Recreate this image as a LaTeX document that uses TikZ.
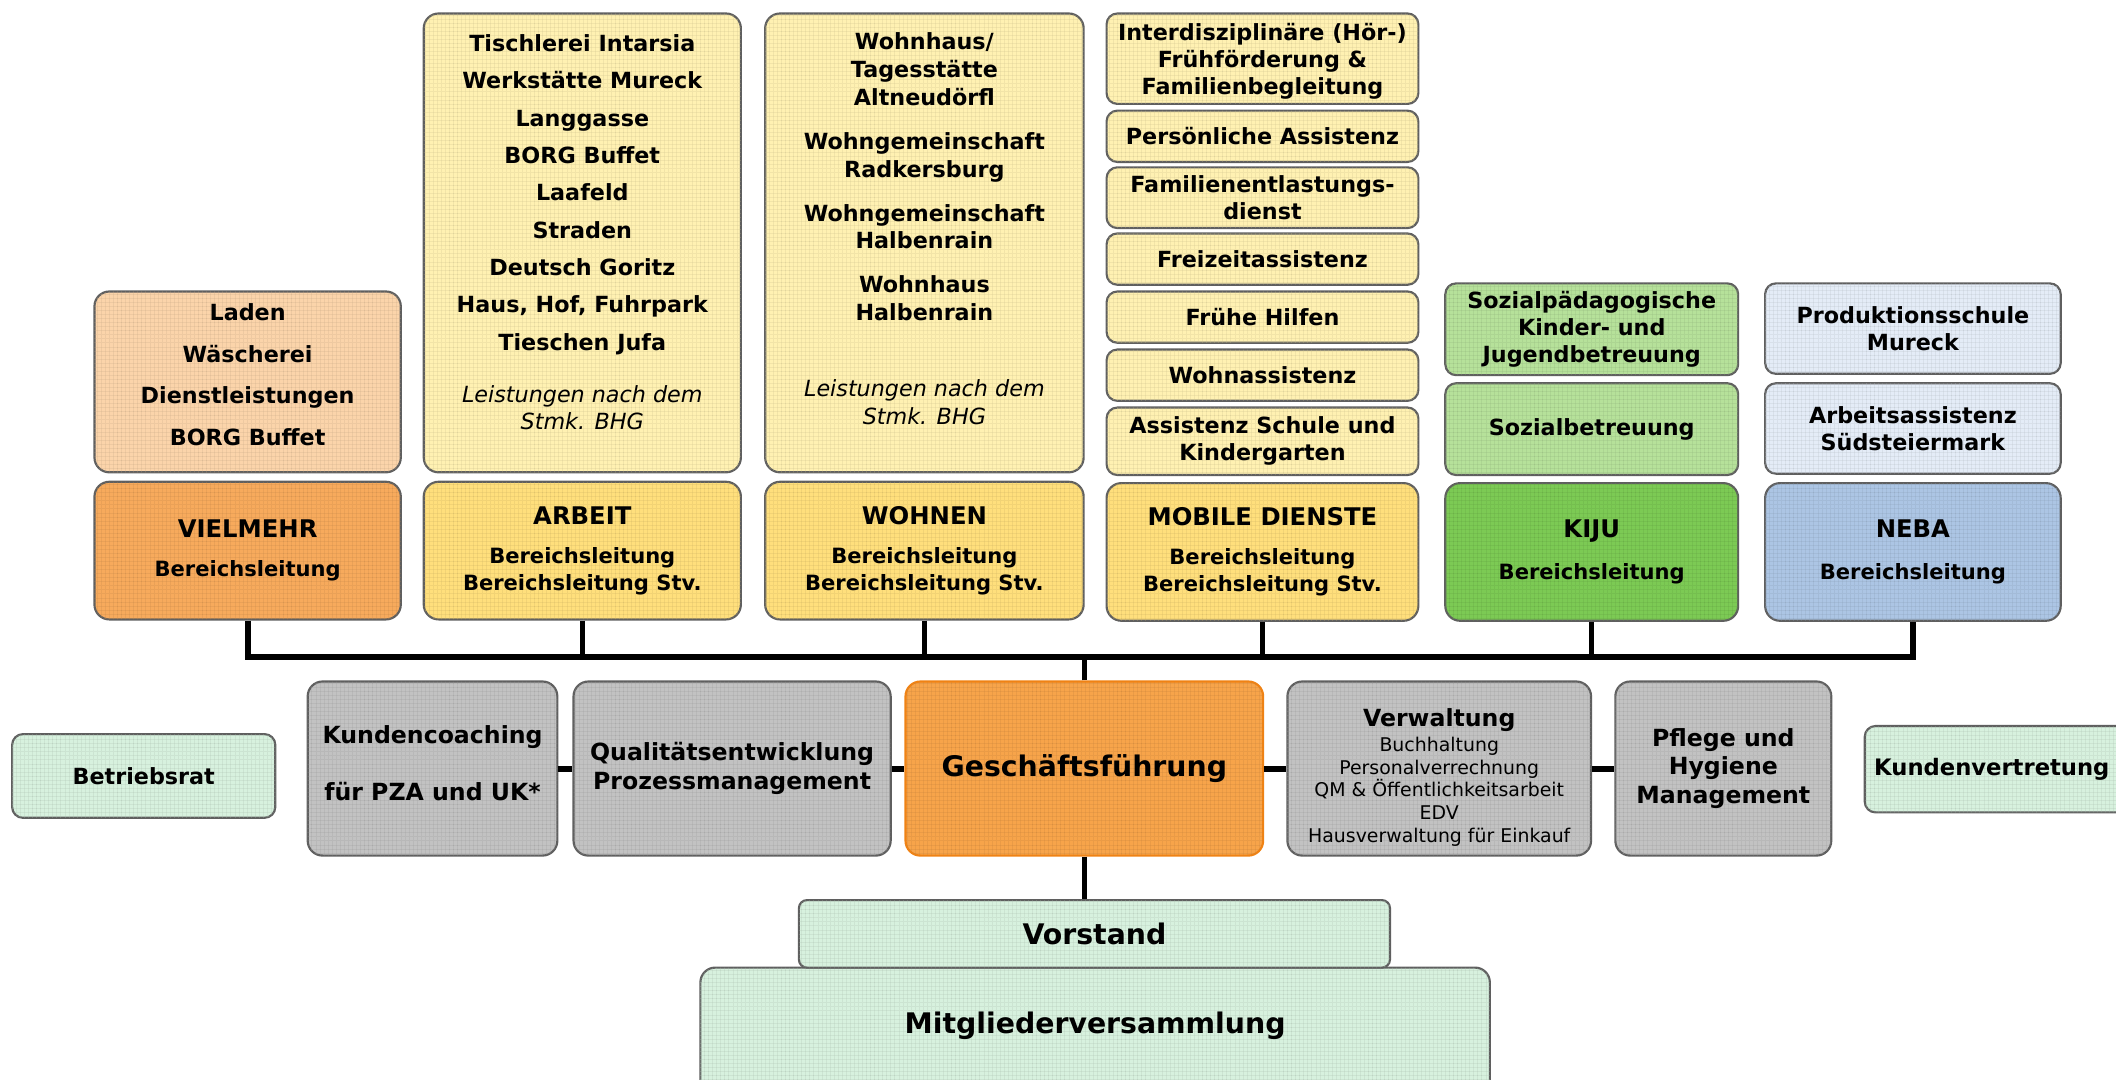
\documentclass[tikz,border=0pt]{standalone}
\usepackage{fontspec}
\setmainfont{DejaVu Sans}
\usepackage{tikz}
\usetikzlibrary{patterns}
\definecolor{boxline}{RGB}{95,95,95}
\definecolor{peach}{RGB}{251,212,170}
\definecolor{vielorange}{RGB}{247,170,92}
\definecolor{paleyellow}{RGB}{255,241,178}
\definecolor{headyellow}{RGB}{255,223,124}
\definecolor{lightgreen}{RGB}{182,225,154}
\definecolor{kijugreen}{RGB}{124,202,84}
\definecolor{paleblue}{RGB}{228,236,247}
\definecolor{nebablue}{RGB}{172,197,228}
\definecolor{stonegrey}{RGB}{194,194,194}
\definecolor{gforange}{RGB}{247,164,74}
\definecolor{gfline}{RGB}{240,130,20}
\definecolor{mint}{RGB}{215,241,222}

\begin{document}
\begin{tikzpicture}[x=1pt,y=-1pt,
  box/.style={draw=boxline,line width=1.6pt,rounded corners=11pt,align=center,inner sep=2pt,
    font=\fontsize{16.5}{20}\selectfont\bfseries},
  smallbox/.style={box,rounded corners=8pt},
  head/.style={box,font=\fontsize{15.6}{20}\selectfont\bfseries},
  mid/.style={box,font=\fontsize{17.5}{21}\selectfont\bfseries},
  tex/.style={fill=#1,postaction={pattern=grid,pattern color=#1!80!black,opacity=.25}},
  link/.style={line width=3.5pt},
  bus/.style={line width=4.5pt}]
\useasboundingbox (0,0) rectangle (1568,800);
\clip (0,0) rectangle (1568,800);

% Bereiche oben
\path (183.5,283) node(laden) [box,tex=peach,minimum width=227pt,minimum height=134pt,text depth=11pt]{Laden\\[10.7pt]
Wäscherei\\[10.7pt]
Dienstleistungen\\[10.7pt]
BORG Buffet};
\path (183.5,408) node(vielmehr) [head,tex=vielorange,minimum width=227pt,minimum height=102pt]{{\fontsize{18}{20}\selectfont VIELMEHR}\\[9pt]
Bereichsleitung};

\path (431.5,180) node(arbeitlist) [box,tex=paleyellow,minimum width=235pt,minimum height=340pt,text depth=16pt]{Tischlerei Intarsia\\[7.7pt]
Werkstätte Mureck\\[7.7pt]
Langgasse\\[7.7pt]
BORG Buffet\\[7.7pt]
Laafeld\\[7.7pt]
Straden\\[7.7pt]
Deutsch Goritz\\[7.7pt]
Haus, Hof, Fuhrpark\\[7.7pt]
Tieschen Jufa\\[19pt]
{\mdseries\itshape Leistungen nach dem}\\
{\mdseries\itshape Stmk. BHG}};
\path (431.5,408) node(arbeit) [head,tex=headyellow,minimum width=235pt,minimum height=102pt]{{\fontsize{18}{20}\selectfont ARBEIT}\\[9pt]
Bereichsleitung\\
Bereichsleitung Stv.};

\path (685,180) node(wohnenlist) [box,tex=paleyellow,minimum width=236pt,minimum height=340pt,text depth=21pt,
  font=\fontsize{16.5}{20.6}\selectfont\bfseries]{Wohnhaus/\\
Tagesstätte\\
Altneudörfl\\[12pt]
Wohngemeinschaft\\
Radkersburg\\[12pt]
Wohngemeinschaft\\
Halbenrain\\[12pt]
Wohnhaus\\
Halbenrain\\[36pt]
{\mdseries\itshape Leistungen nach dem}\\
{\mdseries\itshape Stmk. BHG}};
\path (685,408) node(wohnen) [head,tex=headyellow,minimum width=236pt,minimum height=102pt]{{\fontsize{18}{20}\selectfont WOHNEN}\\[9pt]
Bereichsleitung\\
Bereichsleitung Stv.};

\path (935.5,43.5) node(fruehfoerderung) [smallbox,tex=paleyellow,minimum width=231pt,minimum height=67pt,text depth=-2pt]{Interdisziplinäre (Hör-)\\
Frühförderung \&\\
Familienbegleitung};
\path (935.5,101) node(persass) [smallbox,tex=paleyellow,minimum width=231pt,minimum height=38pt]{Persönliche Assistenz};
\path (935.5,146.5) node(fed) [smallbox,tex=paleyellow,minimum width=231pt,minimum height=45pt]{Familienentlastungs-\\
dienst};
\path (935.5,192) node(freizeit) [smallbox,tex=paleyellow,minimum width=231pt,minimum height=38pt]{Freizeitassistenz};
\path (935.5,235) node(fruehehilfen) [smallbox,tex=paleyellow,minimum width=231pt,minimum height=38pt]{Frühe Hilfen};
\path (935.5,278) node(wohnass) [smallbox,tex=paleyellow,minimum width=231pt,minimum height=38pt]{Wohnassistenz};
\path (935.5,327) node(schule) [smallbox,tex=paleyellow,minimum width=231pt,minimum height=50pt]{Assistenz Schule und\\
Kindergarten};
\path (935.5,409) node(mobile) [head,tex=headyellow,minimum width=231pt,minimum height=102pt]{{\fontsize{18}{20}\selectfont MOBILE DIENSTE}\\[9pt]
Bereichsleitung\\
Bereichsleitung Stv.};

\path (1179.5,244) node(sozpaed) [smallbox,tex=lightgreen,minimum width=217pt,minimum height=68pt]{Sozialpädagogische\\
Kinder- und\\
Jugendbetreuung};
\path (1179.5,318) node(sozbetr) [smallbox,tex=lightgreen,minimum width=217pt,minimum height=68pt]{Sozialbetreuung};
\path (1179.5,409) node(kiju) [head,tex=kijugreen,minimum width=217pt,minimum height=102pt]{{\fontsize{18}{20}\selectfont KIJU}\\[11pt]
Bereichsleitung};

\path (1417.5,243.5) node(prodschule) [smallbox,tex=paleblue,minimum width=219pt,minimum height=67pt]{Produktionsschule\\
Mureck};
\path (1417.5,317.5) node(arbass) [smallbox,tex=paleblue,minimum width=219pt,minimum height=67pt]{Arbeitsassistenz\\
Südsteiermark};
\path (1417.5,409) node(neba) [head,tex=nebablue,minimum width=219pt,minimum height=102pt]{{\fontsize{18}{20}\selectfont NEBA}\\[11pt]
Bereichsleitung};

% mittlere Reihe
\path (106.5,575) node(betriebsrat) [mid,smallbox,tex=mint,minimum width=195pt,minimum height=62pt]{Betriebsrat};
\path (320.5,569.5) node(kunden) [mid,tex=stonegrey,minimum width=185pt,minimum height=129pt,text depth=8pt]{Kundencoaching\\[21pt]
für PZA und UK*};
\path (542.5,569.5) node(quali) [mid,tex=stonegrey,minimum width=235pt,minimum height=129pt]{Qualitätsentwicklung\\
Prozessmanagement};
\path (803.5,569.5) node(gf) [mid,draw=gfline,tex=gforange,minimum width=265pt,minimum height=129pt,font=\fontsize{21}{24}\selectfont\bfseries]{Geschäftsführung};
\path (1066.5,569.5) node(verw) [mid,tex=stonegrey,minimum width=225pt,minimum height=129pt,font=\fontsize{14}{17}\selectfont,text height=113pt]{{\fontsize{17.5}{17}\selectfont\bfseries Verwaltung}\\[1pt]
Buchhaltung\\
Personalverrechnung\\
QM \& Öffentlichkeitsarbeit\\
EDV\\
Hausverwaltung für Einkauf};
\path (1277,569.5) node(pflege) [mid,tex=stonegrey,minimum width=160pt,minimum height=129pt]{Pflege und\\
Hygiene\\
Management};
\path (1381,570) node(kundenvertr) [mid,smallbox,tex=mint,anchor=west,text width=190pt,align=left,inner xsep=7pt,minimum height=64pt,
  font=\fontsize{16.8}{21}\selectfont\bfseries]{Kundenvertretung};

% unten
\path (811.5,768.5) node(mitglied) [box,tex=mint,minimum width=585pt,minimum height=103pt,font=\fontsize{21}{24}\selectfont\bfseries,text depth=22pt]{Mitgliederversammlung};
\path (811,692) node(vorstand) [box,rounded corners=6pt,tex=mint,minimum width=438pt,minimum height=50pt,font=\fontsize{21}{24}\selectfont\bfseries]{Vorstand};

% Verbindungen
\coordinate (bus) at (803,487);
\draw[bus] (vielmehr.south) |- (bus) -| (neba.south);
\foreach \n in {arbeit,wohnen,mobile,kiju}
  \draw[link] (\n.south) -- (\n.south |- bus);
\draw[link] (gf.north) -- (gf.north |- bus);
\draw[link] (gf.south) -- (gf.south |- vorstand.north);
\foreach \a/\b in {kunden/quali,quali/gf,gf/verw,verw/pflege}
  \draw[bus] (\a.east) -- (\b.west);
\end{tikzpicture}
\end{document}
